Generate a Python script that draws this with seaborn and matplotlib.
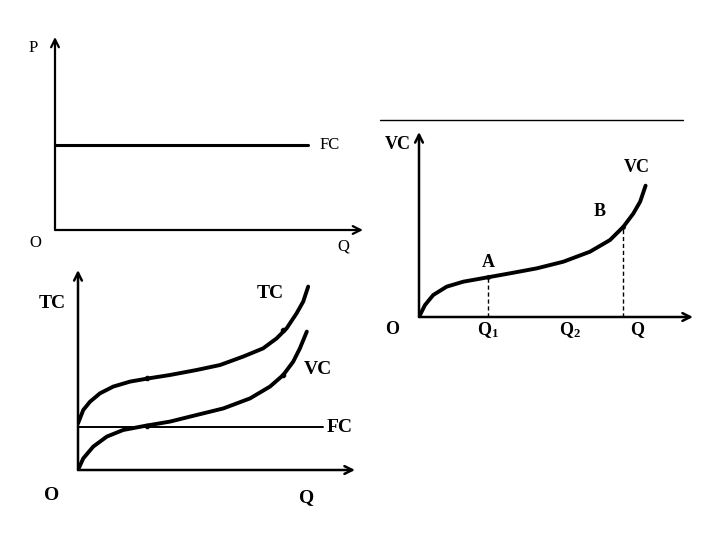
import numpy as np
import pandas as pd
import matplotlib.pyplot as plt
import seaborn as sns
from matplotlib.lines import Line2D

sns.set_theme(style='white')
plt.rcParams['font.family'] = ['Liberation Serif', 'DejaVu Serif']
plt.rcParams['mathtext.fontset'] = 'custom'
plt.rcParams['mathtext.rm'] = 'Liberation Serif:bold'
plt.rcParams['mathtext.bf'] = 'Liberation Serif:bold'
plt.rcParams['mathtext.it'] = 'Liberation Serif:bold'

# Panel 1: fixed cost alone
fc1_q = [0, 8.2]
fc1_cost = [4.4, 4.4]

# Panel 2: total, variable and fixed cost
tc2_q = [0, 0.19, 0.43, 0.79, 1.27, 1.88, 2.54, 3.32, 4.28, 5.13, 5.96, 6.68,
         7.17, 7.53, 7.89, 8.13, 8.31]
tc2 = [2.33, 3.0, 3.41, 3.83, 4.17, 4.42, 4.58, 4.75, 5.0, 5.25, 5.67, 6.08,
       6.58, 7.08, 7.83, 8.42, 9.17]
vc2_q = [0, 0.19, 0.55, 1.04, 1.63, 2.47, 3.32, 4.28, 5.25, 6.21, 6.93, 7.41,
         7.77, 8.01, 8.26]
vc2 = [0, 0.58, 1.17, 1.67, 2.0, 2.22, 2.42, 2.75, 3.08, 3.58, 4.17, 4.75,
       5.42, 6.08, 6.92]
fc2_q = [0, 8.85]
fc2_cost = [2.15, 2.15]
dot2_q = [2.5, 7.41, 2.5, 7.41]
dot2_cost = [4.58, 7.0, 2.2, 4.75]

# Panel 3: variable cost with points A and B
q3 = [0, 0.22, 0.52, 1.01, 1.62, 2.53, 3.32, 4.30, 5.27, 6.24, 6.97, 7.46,
      7.82, 8.07, 8.27]
vc3 = [0, 0.65, 1.19, 1.64, 1.91, 2.15, 2.36, 2.63, 2.99, 3.53, 4.16, 4.88,
       5.59, 6.23, 7.1]
q3_marks = [2.53, 7.46]
vc3_marks = [2.15, 4.88]
q3_ticks = [2.52, 5.5, 7.96]
q3_ticklabels = [r'$\mathrm{Q}_\mathrm{1}$', r'$\mathrm{Q}_\mathrm{2}$', 'Q']

W, H = 720, 540
fig = plt.figure(figsize=(7.2, 5.4), dpi=100)
fig.patch.set_facecolor('white')


def panel(x0, y0, x1, y1, lw=1.5):
    # origin (x0, y0), x-axis end x1, y-axis top y1, in pixels
    ax = fig.add_axes([x0 / W, (H - y0) / H, (x1 - x0) / W, (y0 - y1) / H])
    ax.set_xlim(0, 10)
    ax.set_ylim(0, 10)
    ax.axis('off')
    arrow = dict(arrowstyle='->', lw=lw, color='black', shrinkA=0, shrinkB=0,
                 mutation_scale=14)
    ax.annotate('', xy=(1, 0), xytext=(0, 0), xycoords='axes fraction', arrowprops=arrow)
    ax.annotate('', xy=(0, 1), xytext=(0, 0), xycoords='axes fraction', arrowprops=arrow)
    return ax


def label(ax, x, y, s, size=14, weight='bold'):
    ax.text(x, y, s, fontsize=size, fontweight=weight, ha='center', va='center',
            color='black', clip_on=False)


curve = dict(color='black', solid_capstyle='round', solid_joinstyle='round')

# ---- panel 1
ax1 = panel(55, 230, 363, 37, lw=1.6)
sns.lineplot(x=fc1_q, y=fc1_cost, ax=ax1, lw=2.2, **curve)
label(ax1, -0.71, 9.43, 'P', 12, 'normal')
label(ax1, -0.65, -0.67, 'O', 12, 'normal')
label(ax1, 9.35, -0.88, 'Q', 12, 'normal')
label(ax1, 8.93, 4.4, 'FC', 12, 'normal')

# ---- panel 2
ax2 = panel(78, 470, 355, 270, lw=1.8)
sns.lineplot(x=tc2_q, y=tc2, ax=ax2, lw=2.8, sort=False, **curve)
sns.lineplot(x=vc2_q, y=vc2, ax=ax2, lw=2.8, sort=False, **curve)
sns.lineplot(x=fc2_q, y=fc2_cost, ax=ax2, lw=1.4, **curve)
sns.scatterplot(x=dot2_q, y=dot2_cost, ax=ax2, color='black', s=18)
label(ax2, -0.94, 8.35, 'TC')
label(ax2, 6.93, 8.85, 'TC')
label(ax2, 8.66, 5.0, 'VC')
label(ax2, 9.46, 2.15, 'FC')
label(ax2, -0.94, -1.25, 'O')
label(ax2, 8.27, -1.4, 'Q')

# ---- panel 3
fig.add_artist(Line2D([380 / W, 683 / W], [(H - 120) / H, (H - 120) / H],
                      color='black', lw=1.0))
ax3 = panel(419, 317, 693, 132, lw=1.8)
sns.lineplot(x=q3, y=vc3, ax=ax3, lw=2.8, sort=False, **curve)
for qm, vm in zip(q3_marks, vc3_marks):
    ax3.plot([qm, qm], [0, vm], color='black', lw=1.0, ls=(0, (3, 2)))
sns.scatterplot(x=q3_marks, y=vc3_marks, ax=ax3, color='black', s=14)
label(ax3, -0.77, 9.35, 'VC', 13)
label(ax3, 7.96, 8.1, 'VC', 13)
label(ax3, 6.6, 5.7, 'B', 13)
label(ax3, 2.52, 2.97, 'A', 13)
label(ax3, -0.99, -0.7, 'O', 13)
for qt, lab in zip(q3_ticks, q3_ticklabels):
    label(ax3, qt, -0.7, lab, 13)

fig.savefig('out.png', dpi=100)
